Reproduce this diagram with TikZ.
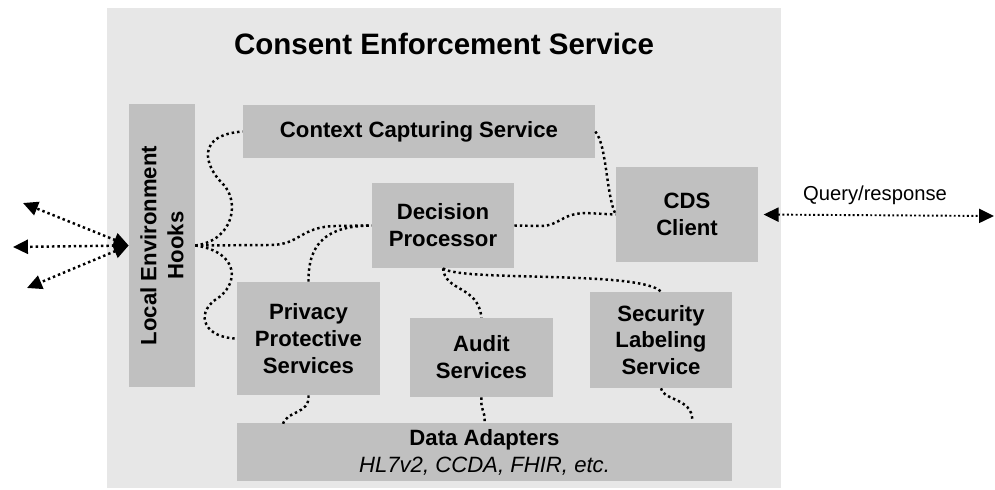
\documentclass[tikz,border=0pt]{standalone}
\usepackage{fontspec}
\setmainfont{Liberation Sans}
\usetikzlibrary{calc,arrows.meta}
\definecolor{bggray}{RGB}{231,231,231}
\definecolor{boxgray}{RGB}{192,192,192}
\tikzset{>={Triangle[length=8.5pt,width=8pt]}}
\tikzset{
  svcbox/.style={fill=boxgray,inner sep=0pt,align=center,
    font=\fontsize{12.6}{15.3}\selectfont\bfseries},
  link/.style={line width=1.4pt,dash pattern=on 1.4pt off 1.7pt},
  extlink/.style={line width=1.1pt,dash pattern=on 1.1pt off 1.4pt,<->},
}

\begin{document}
\begin{tikzpicture}[x=0.02cm,y=-0.02cm]
    \useasboundingbox (0,0) rectangle (995,490);
    \fill[bggray] (107,8) rectangle (781,488);
    \node[font=\fontsize{16.8}{20}\selectfont\bfseries] (title) at (444,44) {Consent Enforcement Service};

    % service boxes
    \node[svcbox,rotate=90,minimum width=5.66cm,minimum height=1.32cm] (hooks) at (162,245.5) {Local Environment\\Hooks};
    \node[svcbox,minimum width=7.04cm,minimum height=1.06cm] (ctx) at (419,131.5) {Context Capturing Service};
    \node[svcbox,minimum width=2.84cm,minimum height=1.7cm] (dec) at (443,225.5) {Decision\\Processor};
    \node[svcbox,minimum width=2.84cm,minimum height=1.9cm] (cds) at (687,214.5) {CDS\\Client};
    \node[svcbox,minimum width=2.86cm,minimum height=2.26cm] (priv) at (308.5,338.5) {Privacy\\Protective\\Services};
    \node[svcbox,minimum width=2.86cm,minimum height=1.58cm] (audit) at (481.5,357.5) {Audit\\Services};
    \node[svcbox,minimum width=2.84cm,minimum height=1.92cm] (sec) at (661,340) {Security\\Labeling\\Service};
    \node[svcbox,minimum width=9.9cm,minimum height=1.16cm] (data) at (484.5,452) {Data Adapters\\{\mdseries\itshape HL7v2, CCDA, FHIR, etc.}};

    % outside world (hooks is rotated: north is its left side, south its right side)
    \coordinate (ext1) at (23,203);
    \coordinate (ext2) at (13,247);
    \coordinate (ext3) at (27,288);
    \foreach \e in {ext1,ext2,ext3}
        \draw[link,<->] (hooks.north) -- (\e);
    \coordinate (qend) at (994,216);
    \draw[extlink,shorten <=3pt] (cds.east) -- (qend);
    \node[font=\fontsize{11.5}{13}\selectfont] (qlabel) at (875,195) {Query/response};

    % internal links
    \draw[link] (hooks.south) .. controls (235,240) and (240,200) .. (222,183)
        .. controls (205,166) and (195,135) .. (ctx.west);
    \draw[link] (hooks.south) -- (270,245) .. controls (300,245) and (300,227) .. (335,226) -- (dec.west);
    \draw[link] (hooks.south) .. controls (240,252) and (240,285) .. (215,300)
        .. controls (195,315) and (205,338) .. (priv.west);
    \draw[link] (priv.north) .. controls (308,240) and (330,226) .. (dec.west);
    \draw[link] (dec.east) -- (540,226) .. controls (560,226) and (560,214) .. (585,213) -- (cds.west);
    \draw[link] (ctx.east) .. controls (607,145) and (606,195) .. (cds.west);
    \draw[link] (dec.south) .. controls (445,292) and (478,285) .. (audit.north);
    \draw[link] (dec.south) .. controls (460,282) and (640,270) .. (sec.north);
    \draw[link] (priv.south) .. controls (310,415) and (285,410) .. ($(data.north west)+(46,3)$);
    \draw[link] (audit.south) .. controls (480,410) and (486,412) .. (data.north);
    \draw[link] (sec.south) .. controls (662,400) and (692,398) .. ($(data.north east)+(-40,-3)$);
  \end{tikzpicture}
\end{document}
